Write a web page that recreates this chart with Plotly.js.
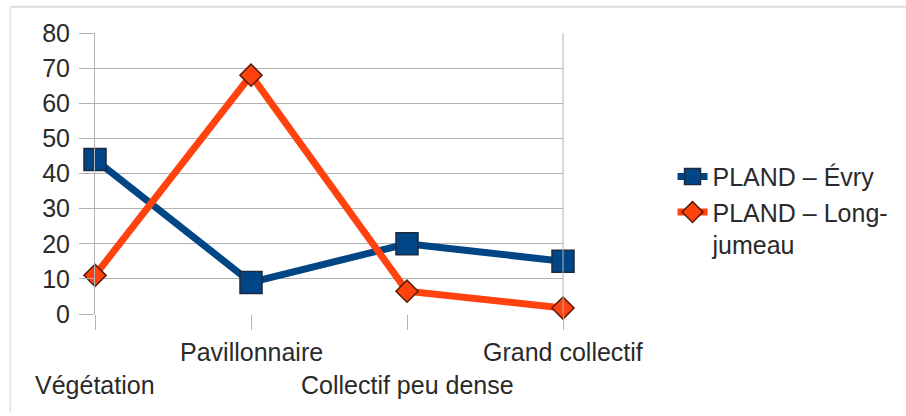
<!DOCTYPE html>
<html>
<head>
<meta charset="utf-8">
<script src="https://cdn.plot.ly/plotly-3.0.1.min.js"></script>
<style>html,body{margin:0;padding:0;background:#fff;}#chart{width:906px;height:416px;}</style>
</head>
<body>
<div id="chart"></div>
<script>
const categories = ["Végétation", "Pavillonnaire", "Collectif peu dense", "Grand collectif"];
const evry = [44, 9, 20, 15];
const longjumeau = [11, 68, 6.5, 1.7];
const seriesNames = ["PLAND – Évry", "PLAND – Long-<br>jumeau"];
const yTicks = [0, 10, 20, 30, 40, 50, 60, 70, 80];

const font = "Liberation Sans, Arial, sans-serif";
const txt = "#2a2a2a";

const traces = [
  {
    x: categories, y: evry, name: seriesNames[0], type: "scatter", mode: "lines+markers", cliponaxis: false,
    line: {color: "#004586", width: 7},
    marker: {symbol: "square", size: 22, color: "#004586", line: {color: "#1b2a3c", width: 1.5}}
  },
  {
    x: categories, y: longjumeau, name: seriesNames[1], type: "scatter", mode: "lines+markers", cliponaxis: false,
    line: {color: "#ff420e", width: 7},
    marker: {symbol: "diamond", size: 17, color: "#ff420e", line: {color: "#5a1a08", width: 1.5}}
  }
];

const rows = [1, 0, 1, 0];
const annotations = categories.map((c, i) => ({
  x: c, xref: "x", yref: "paper", y: rows[i] ? -0.253 : -0.135,
  text: c, showarrow: false, xanchor: "center", yanchor: "middle",
  font: {family: font, size: 25, color: txt}
}));

const layout = {
  width: 906, height: 416,
  margin: {l: 95, r: 341, t: 33, b: 102},
  paper_bgcolor: "#ffffff", plot_bgcolor: "#ffffff",
  showlegend: true,
  xaxis: {
    type: "category", range: [0, 3], showgrid: false, zeroline: false,
    showticklabels: false, ticks: "outside", ticklen: 15, tickcolor: "#b3b3b3", tickwidth: 1,
    showline: false, fixedrange: true
  },
  yaxis: {
    range: [0, 80], tickvals: yTicks, ticktext: yTicks.map(String),
    showgrid: true, gridcolor: "#b3b3b3", gridwidth: 1, zeroline: false,
    ticks: "outside", ticklen: 15, tickcolor: "#b3b3b3", ticklabelstandoff: 4,
    showline: true, linecolor: "#b3b3b3", linewidth: 1, mirror: false,
    tickfont: {family: font, size: 25, color: txt}
  },
  legend: {
    x: 1.234, xanchor: "left", y: 0.57, yanchor: "top",
    font: {family: font, size: 25, color: txt},
    bgcolor: "rgba(0,0,0,0)", valign: "top", tracegroupgap: 0
  },
  annotations: annotations,
  shapes: [
    {type: "line", xref: "paper", yref: "paper", x0: 1, x1: 1, y0: 0, y1: 1, line: {color: "#b3b3b3", width: 1}},
    {type: "line", xref: "paper", yref: "paper", x0: -0.181, x1: 1.745, y0: 1.093, y1: 1.093, line: {color: "#dddddd", width: 2}},
    {type: "line", xref: "paper", yref: "paper", x0: -0.181, x1: -0.181, y0: 1.093, y1: -0.35, line: {color: "#e6e6e6", width: 2}}
  ]
};

Plotly.newPlot("chart", traces, layout, {displayModeBar: false, staticPlot: true});
</script>
</body>
</html>
